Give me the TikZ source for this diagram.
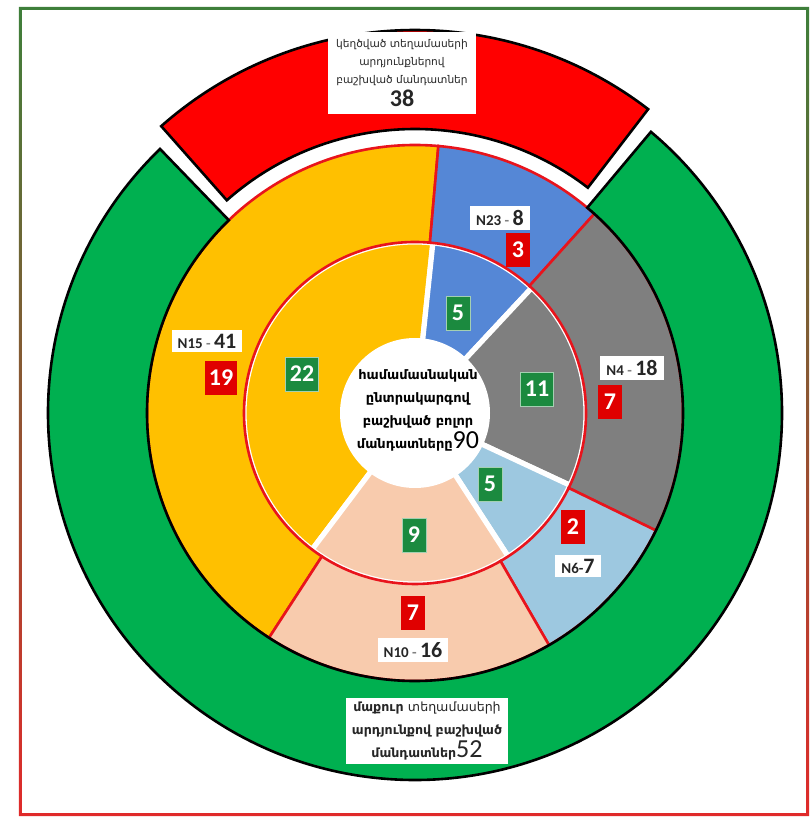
\documentclass[tikz,border=0pt]{standalone}
\usepackage{fontspec}
\setmainfont{Carlito}
\newfontfamily\armfont{DejaVu Sans}
\usepackage{tikz}
\usetikzlibrary{positioning}

\definecolor{RingGreen}{HTML}{00B050}
\definecolor{CutRed}{HTML}{FF0000}
\definecolor{SliceYellow}{HTML}{FFC000}
\definecolor{SliceBlue}{HTML}{5587D6}
\definecolor{SliceGray}{HTML}{7F7F7F}
\definecolor{SliceLight}{HTML}{9DC8E0}
\definecolor{SlicePeach}{HTML}{F8CBAD}
\definecolor{EdgeRed}{HTML}{E8141C}
\definecolor{BoxRed}{HTML}{E00000}
\definecolor{BoxGreen}{HTML}{1B8A3F}
\definecolor{FrameGreen}{HTML}{3E7F3A}
\definecolor{FrameRed}{HTML}{E02A2A}

\begin{document}
\begin{tikzpicture}[x=.5pt,y=.5pt,
                    slice/.style={draw=EdgeRed,line width=1.3pt},
                    innerslice/.style={draw=white,line width=2.6pt},
                    ring/.style={draw=black,line width=1.3pt},
                    tag/.style={fill=white,inner xsep=3pt,inner ysep=2pt,text=black!85},
                    seatbox/.style={text=white,minimum height=17pt,minimum width=12pt,inner xsep=2pt,font={\bfseries\fontsize{12}{12}\selectfont}},
                    lost/.style={seatbox,fill=BoxRed},
                    kept/.style={seatbox,fill=BoxGreen,draw=white!60!BoxGreen,line width=.4pt}]
  \useasboundingbox (-415,-404) rectangle (396,413);
  % frame
  \shade[top color=FrameGreen,bottom color=FrameRed,even odd rule]
    (-396,406) rectangle (394,-403) (-393,403) rectangle (391,-400);
  % inner ring
  \foreach \a/\b/\c in {84/233/SliceYellow,47/84/SliceBlue,-25/47/SliceGray,-57/-25/SliceLight,-127/-57/SlicePeach}
    \filldraw[innerslice,fill=\c] (0,0) -- (\a:171) arc[start angle=\a,end angle=\b,radius=171] -- cycle;
  % middle ring
  \foreach \a/\b/\c in {85/237/SliceYellow,48/85/SliceBlue,-26/48/SliceGray,-60/-26/SliceLight,-123/-60/SlicePeach}
    \filldraw[slice,fill=\c] (\a:171) arc[start angle=\a,end angle=\b,radius=171] -- (\b:268)
      arc[start angle=\b,end angle=\a,radius=268] -- cycle;
  \fill[white] (0,0) circle (75);
  % outer ring
  \filldraw[ring,fill=RingGreen] (134:268) -- (134:367) arc[start angle=134,end angle=410,radius=367]
    -- (50:268) arc[start angle=410,end angle=134,radius=268] -- cycle;
  \filldraw[ring,fill=CutRed] (52.5:284) -- (52.5:383) arc[start angle=52.5,end angle=131.5,radius=383]
    -- (131.5:284) arc[start angle=131.5,end angle=52.5,radius=284] -- cycle;
  % texts
  \node[tag,align=center,minimum width=74pt,minimum height=41pt,font={\armfont\fontsize{5.3}{9}\selectfont}] (cut-seats) at (-13,340)
    {կեղծված տեղամասերի\\արդյունքներով\\բաշխված մանդատներ\\[1pt]{\rmfamily\bfseries\fontsize{12}{12}\selectfont 38}};
  \node[align=center,font={\armfont\bfseries\fontsize{6.5}{11.5}\selectfont}] (all-seats) at (3,3)
    {համամասնական\\ընտրակարգով\\բաշխված բոլոր\\մանդատները{\rmfamily\mdseries\fontsize{13}{13}\selectfont 90}};
  \node[tag,align=center,font={\armfont\bfseries\fontsize{6.3}{11.5}\selectfont}] (clean-seats) at (12,-318)
    {մաքուր {\mdseries տեղամասերի}\\արդյունքով բաշխված\\մանդատներ{\rmfamily\mdseries\fontsize{13}{13}\selectfont 52}};
  \node[tag] (n15-total) at (-208,72) {\bfseries\fontsize{7.5}{9}\selectfont N15 {\color{gray}-} \fontsize{11}{12}\selectfont 41};
  \node[tag] (n23-total) at (85,195) {\bfseries\fontsize{7.5}{9}\selectfont N23 {\color{gray}-} \fontsize{11}{12}\selectfont 8};
  \node[tag] (n4-total) at (217,45) {\bfseries\fontsize{7.5}{9}\selectfont N4 {\color{gray}-} \fontsize{11}{12}\selectfont 18};
  \node[tag] (n6-total) at (163,-153) {\bfseries\fontsize{7.5}{9}\selectfont N6-\fontsize{11}{12}\selectfont 7};
  \node[tag] (n10-total) at (-2,-237) {\bfseries\fontsize{7.5}{9}\selectfont N10 {\color{gray}-} \fontsize{11}{12}\selectfont 16};
  \node[lost] (n15-cut) at (-194,35) {19};
  \node[lost] (n23-cut) at (103,163) {3};
  \node[lost] (n4-cut) at (195,11) {7};
  \node[lost] (n6-cut) at (158,-114) {2};
  \node[lost] (n10-cut) at (-2,-200) {7};
  \node[kept] (n15-clean) at (-113,39) {22};
  \node[kept] (n23-clean) at (43,100) {5};
  \node[kept] (n4-clean) at (122,24) {11};
  \node[kept] (n6-clean) at (75,-71) {5};
  \node[kept] (n10-clean) at (-1,-122) {9};
\end{tikzpicture}
\end{document}
